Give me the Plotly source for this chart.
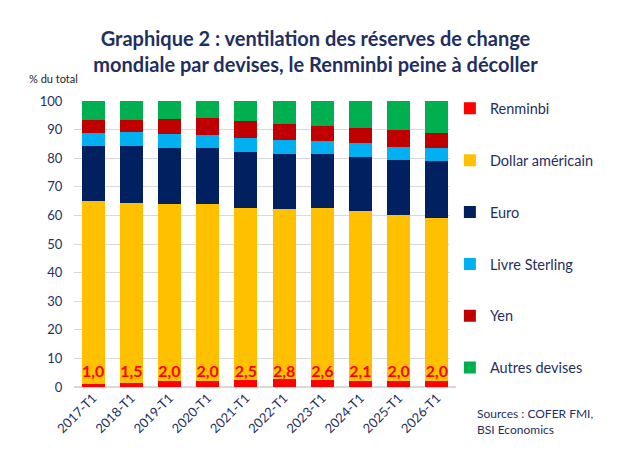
import plotly.graph_objects as go

# -------------------------------
# Data (% du total)
# -------------------------------

periods = ["2017-T1", "2018-T1", "2019-T1", "2020-T1", "2021-T1",
           "2022-T1", "2023-T1", "2024-T1", "2025-T1", "2026-T1"]

renminbi = [1.0, 1.5, 2.0, 2.0, 2.5, 2.8, 2.6, 2.1, 2.0, 2.0]
dollar = [64.1, 62.7, 62.0, 62.1, 60.0, 59.4, 60.1, 59.5, 58.1, 57.0]
euro = [19.1, 20.0, 19.6, 19.5, 19.7, 19.1, 18.6, 18.8, 19.3, 20.1]
livre = [4.6, 4.9, 4.7, 4.4, 4.9, 5.0, 4.8, 5.0, 4.6, 4.6]
yen = [4.5, 4.4, 5.4, 6.2, 5.8, 5.7, 5.2, 5.2, 5.8, 5.1]
autres = [6.7, 6.5, 6.3, 5.8, 7.1, 8.0, 8.7, 9.4, 10.2, 11.2]

# -------------------------------
# Style
# -------------------------------

navy = "#1F2F5F"
font_family = "Lato"

series = [
    ("Renminbi", renminbi, "#FF0000"),
    ("Dollar américain", dollar, "#FFC000"),
    ("Euro", euro, "#002060"),
    ("Livre Sterling", livre, "#00B0F0"),
    ("Yen", yen, "#C00000"),
    ("Autres devises", autres, "#00B050"),
]

fig = go.Figure()

for name, vals, col in series:
    fig.add_trace(
        go.Bar(
            x=periods,
            y=vals,
            name=name,
            legendgroup=name,
            marker=dict(color=col, line=dict(width=0)),
        )
    )

# red renminbi labels, all at the same height
fig.add_trace(
    go.Scatter(
        x=periods,
        y=[5] * len(periods),
        mode="text",
        text=[f"{v:.1f}".replace(".", ",") for v in renminbi],
        textfont=dict(family=font_family, size=16, color="#FF0000", weight="bold"),
        showlegend=False,
        hoverinfo="skip",
    )
)

# -------------------------------
# Layout
# -------------------------------

fig.update_layout(
    width=615,
    height=456,
    barmode="stack",
    bargap=0.4,
    paper_bgcolor="white",
    plot_bgcolor="white",
    margin=dict(l=66, r=167, t=93, b=77, autoexpand=False),
    font=dict(family=font_family, color=navy, size=13),
    title=dict(
        text="Graphique 2 : ventilation des réserves de change<br>mondiale par devises, le Renminbi peine à décoller",
        x=0.5,
        xanchor="center",
        y=0.917,
        yanchor="top",
        font=dict(family=font_family, size=20, color=navy, weight="bold"),
    ),
    xaxis=dict(
        tickangle=-45,
        tickfont=dict(size=13, color=navy),
        showline=False,
        ticks="",
    ),
    yaxis=dict(
        range=[0, 100],
        dtick=10,
        showgrid=True,
        gridcolor="#D9D9D9",
        zeroline=True,
        zerolinecolor="#D9D9D9",
        tickfont=dict(size=13, color=navy),
        ticklen=8,
        ticks="outside",
        tickcolor="white",
    ),
    legend=dict(
        x=0.984,
        xanchor="left",
        y=1.03,
        yanchor="top",
        traceorder="grouped",
        tracegroupgap=30,
        font=dict(size=14.5, color=navy),
        itemwidth=30,
        maxheight=420,
    ),
    annotations=[
        dict(
            text="% du total",
            xref="paper", yref="paper",
            x=0.015, y=1.05,
            xanchor="right", yanchor="bottom",
            showarrow=False,
            font=dict(size=11, color="#222222"),
        ),
        dict(
            text="Sources : COFER FMI,<br>BSI Economics",
            xref="paper", yref="paper",
            x=1.05, y=-0.06,
            xanchor="left", yanchor="top",
            align="left",
            showarrow=False,
            font=dict(size=12, color=navy),
        ),
    ],
)

fig.write_html("out.html")
